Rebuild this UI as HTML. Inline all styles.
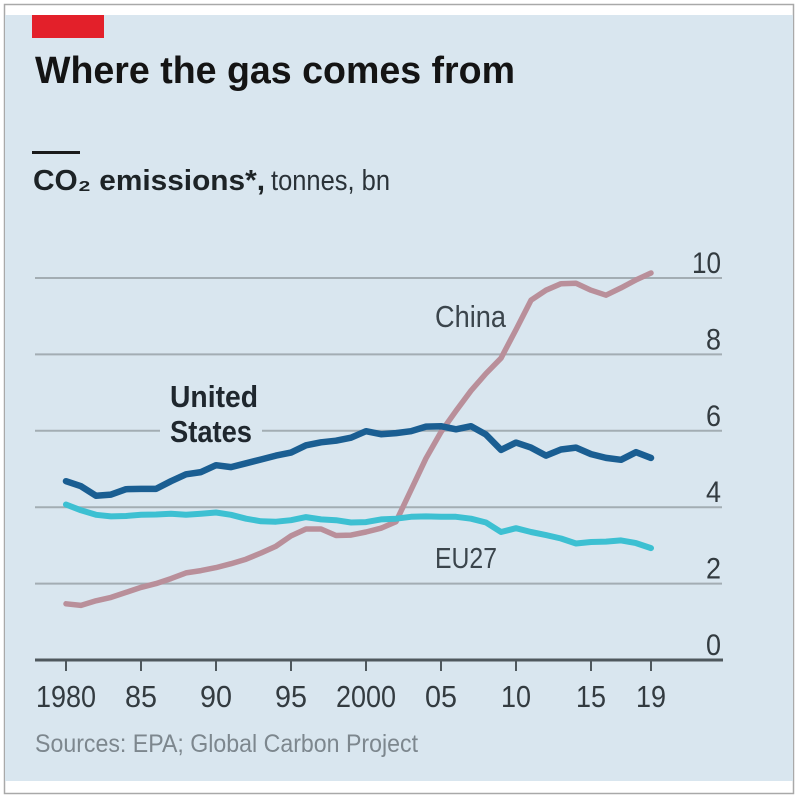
<!DOCTYPE html>
<html><head><meta charset="utf-8"><style>
html,body{margin:0;padding:0;background:#fff;}
svg{display:block;}
text{font-family:"Liberation Sans",sans-serif;}
</style></head><body>
<svg width="800" height="800" viewBox="0 0 800 800" xmlns="http://www.w3.org/2000/svg">
<rect x="0" y="0" width="800" height="800" fill="#ffffff"/>
<rect x="4.5" y="4.5" width="789" height="789" fill="#ffffff" stroke="#a9a9a9" stroke-width="1.5"/>
<rect x="5" y="15" width="788" height="766" fill="#d9e6ef"/>
<rect x="32" y="15" width="72" height="23" fill="#e3202a"/>
<text x="35" y="83" font-size="38" font-weight="bold" fill="#141414" textLength="480" lengthAdjust="spacingAndGlyphs">Where the gas comes from</text>
<rect x="32" y="151" width="48" height="3" fill="#1a1a1a"/>
<text x="33" y="190" font-size="29" font-weight="bold" fill="#1d2326" textLength="232" lengthAdjust="spacingAndGlyphs">CO₂ emissions*,</text>
<text x="271" y="190" font-size="29" fill="#2a3238" textLength="119" lengthAdjust="spacingAndGlyphs">tonnes, bn</text>

<g stroke="#a3adb3" stroke-width="2">
<line x1="35" y1="278" x2="722" y2="278"/>
<line x1="35" y1="354.4" x2="722" y2="354.4"/>
<line x1="35" y1="430.8" x2="722" y2="430.8"/>
<line x1="35" y1="507.2" x2="722" y2="507.2"/>
<line x1="35" y1="583.6" x2="722" y2="583.6"/>
</g>
<g font-size="30" fill="#333b40" text-anchor="end">
<text x="721" y="273" textLength="29" lengthAdjust="spacingAndGlyphs">10</text>
<text x="721" y="349.4" textLength="15" lengthAdjust="spacingAndGlyphs">8</text>
<text x="721" y="425.8" textLength="15" lengthAdjust="spacingAndGlyphs">6</text>
<text x="721" y="502.2" textLength="15" lengthAdjust="spacingAndGlyphs">4</text>
<text x="721" y="578.6" textLength="15" lengthAdjust="spacingAndGlyphs">2</text>
<text x="721" y="655" textLength="15" lengthAdjust="spacingAndGlyphs">0</text>
</g>

<rect x="160" y="426" width="102" height="10" fill="#d9e6ef"/>

<polyline fill="none" stroke="#b98f9a" stroke-width="5.5" stroke-linejoin="round" stroke-linecap="round" points="66,603.8 81,605.4 96,600.8 111,597.4 126,592.4 141,587.4 156,583.6 171,578.6 186,572.9 201,570.6 216,567.6 231,563.7 246,559.2 261,553.0 276,546.2 291,535.9 306,529.0 321,529.0 336,535.5 351,535.1 366,532.0 381,528.2 396,521.7 411,490.0 426,458.3 441,432.0 456,410.9 471,390.7 486,373.5 501,358.2 516,329.6 531,300.2 546,290.2 561,283.7 576,283.3 591,290.2 606,295.2 621,287.9 636,279.9 651,273.0"/>
<polyline fill="none" stroke="#3dc0d2" stroke-width="6" stroke-linejoin="round" stroke-linecap="round" points="66,504.5 81,510.3 96,514.8 111,516.4 126,516.0 141,514.8 156,514.5 171,513.7 186,514.8 201,513.7 216,512.5 231,514.8 246,518.7 261,521.3 276,521.7 291,520.2 306,517.1 321,519.4 336,520.2 351,522.5 366,522.1 381,519.4 396,518.7 411,516.8 426,516.4 441,516.8 456,516.8 471,518.7 486,522.5 501,532.0 516,528.2 531,532.0 546,535.1 561,538.5 576,543.5 591,542.0 606,541.6 621,540.4 636,543.1 651,548.1"/>
<polyline fill="none" stroke="#1a5e92" stroke-width="6.5" stroke-linejoin="round" stroke-linecap="round" points="66,481.2 81,486.2 96,495.7 111,494.6 126,489.2 141,488.9 156,488.9 171,481.2 186,474.3 201,472.1 216,465.2 231,467.1 246,463.3 261,459.5 276,455.6 291,452.6 306,445.3 321,442.3 336,440.7 351,437.7 366,431.2 381,434.2 396,433.1 411,431.2 426,426.6 441,426.2 456,429.3 471,426.2 486,434.6 501,449.9 516,442.6 531,447.6 546,455.6 561,449.5 576,447.6 591,454.1 606,457.9 621,459.8 636,452.2 651,457.9"/>

<text x="170" y="407" font-size="31" font-weight="bold" fill="#1f272e" textLength="88" lengthAdjust="spacingAndGlyphs">United</text>
<text x="170" y="442" font-size="31" font-weight="bold" fill="#1f272e" textLength="82" lengthAdjust="spacingAndGlyphs">States</text>
<text x="435" y="327" font-size="31" fill="#3b454c" textLength="71" lengthAdjust="spacingAndGlyphs">China</text>
<text x="435" y="568" font-size="29" fill="#3b454c" textLength="62" lengthAdjust="spacingAndGlyphs">EU27</text>

<line x1="35" y1="660" x2="723" y2="660" stroke="#4f585d" stroke-width="3"/>
<g stroke="#4f585d" stroke-width="2">
<line x1="66" y1="660" x2="66" y2="671"/>
<line x1="141" y1="660" x2="141" y2="671"/>
<line x1="216" y1="660" x2="216" y2="671"/>
<line x1="291" y1="660" x2="291" y2="671"/>
<line x1="366" y1="660" x2="366" y2="671"/>
<line x1="441" y1="660" x2="441" y2="671"/>
<line x1="516" y1="660" x2="516" y2="671"/>
<line x1="591" y1="660" x2="591" y2="671"/>
<line x1="651" y1="660" x2="651" y2="671"/>
</g>
<g font-size="31" fill="#333b40" text-anchor="middle">
<text x="66" y="707" textLength="60" lengthAdjust="spacingAndGlyphs">1980</text>
<text x="141" y="707" textLength="32" lengthAdjust="spacingAndGlyphs">85</text>
<text x="216" y="707" textLength="32" lengthAdjust="spacingAndGlyphs">90</text>
<text x="291" y="707" textLength="32" lengthAdjust="spacingAndGlyphs">95</text>
<text x="366" y="707" textLength="60" lengthAdjust="spacingAndGlyphs">2000</text>
<text x="441" y="707" textLength="32" lengthAdjust="spacingAndGlyphs">05</text>
<text x="516" y="707" textLength="30" lengthAdjust="spacingAndGlyphs">10</text>
<text x="591" y="707" textLength="30" lengthAdjust="spacingAndGlyphs">15</text>
<text x="651" y="707" textLength="30" lengthAdjust="spacingAndGlyphs">19</text>
</g>
<text x="35" y="752" font-size="25" fill="#7d878e" textLength="383" lengthAdjust="spacingAndGlyphs">Sources: EPA; Global Carbon Project</text>
</svg>
</body></html>
